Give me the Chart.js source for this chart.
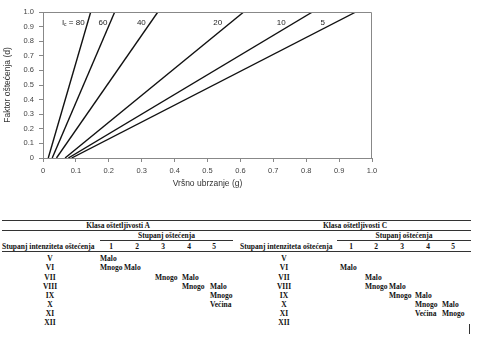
<!DOCTYPE html>
<html>
<head>
<meta charset="utf-8">
<script src="https://cdn.jsdelivr.net/npm/chart.js@4"></script>
<style>
  body { margin: 0; background: #fff; width: 480px; height: 340px; overflow: hidden; position: relative; }
  #wrap { position: absolute; left: 0; top: 0; width: 480px; height: 190px; }
  .t { position: absolute; font-family: "Liberation Serif", serif; font-weight: bold; font-size: 7.5px; line-height: 9px; white-space: nowrap; color: #111; letter-spacing: 0px; }
  .c { transform: translateX(-50%); }
  .hl { position: absolute; height: 0; border-top: 1px solid #333; }
</style>
</head>
<body>
<div id="wrap"><canvas id="chart" width="480" height="190"></canvas></div>
<div id="tables"></div>
<script>
// chart data
const intensities = [80, 60, 40, 20, 10, 5];
const gAtZero = [0.016, 0.028, 0.041, 0.067, 0.077, 0.087];
const gAtOne  = [0.145, 0.218, 0.349, 0.610, 0.819, 0.951];
const labelG  = [0.092, 0.182, 0.299, 0.531, 0.724, 0.850];
const labelD  = 0.925;
const xTicks = [0, 0.1, 0.2, 0.3, 0.4, 0.5, 0.6, 0.7, 0.8, 0.9, 1.0];

// table data
const grades = ['V', 'VI', 'VII', 'VIII', 'IX', 'X', 'XI', 'XII'];
const degrees = ['1', '2', '3', '4', '5'];
const classA = [
  ['Malo', '', '', '', ''],
  ['Mnogo', 'Malo', '', '', ''],
  ['', '', 'Mnogo', 'Malo', ''],
  ['', '', '', 'Mnogo', 'Malo'],
  ['', '', '', '', 'Mnogo'],
  ['', '', '', '', 'Većina'],
  ['', '', '', '', ''],
  ['', '', '', '', '']
];
const classC = [
  ['', '', '', '', ''],
  ['Malo', '', '', '', ''],
  ['', 'Malo', '', '', ''],
  ['', 'Mnogo', 'Malo', '', ''],
  ['', '', 'Mnogo', 'Malo', ''],
  ['', '', '', 'Mnogo', 'Malo'],
  ['', '', '', 'Većina', 'Mnogo'],
  ['', '', '', '', '']
];

const boxPlugin = {
  id: 'box',
  afterDraw(chart) {
    const c = chart.ctx, a = chart.chartArea;
    c.save();
    c.strokeStyle = '#888';
    c.lineWidth = 1;
    c.beginPath();
    c.moveTo(a.left, a.top + 0.5);
    c.lineTo(a.right - 0.5, a.top + 0.5);
    c.lineTo(a.right - 0.5, a.bottom);
    c.stroke();
    // line labels
    c.fillStyle = '#222';
    c.font = '8px "Liberation Sans", sans-serif';
    c.textAlign = 'center';
    c.textBaseline = 'middle';
    const xs = chart.scales.x, ys = chart.scales.y;
    intensities.forEach((v, i) => {
      const px = xs.getPixelForValue(labelG[i]);
      const py = ys.getPixelForValue(labelD);
      if (i === 0) {
        const main = ' = ' + v;
        const w1 = c.measureText('I').width;
        const w2 = c.measureText(main).width;
        c.font = '5px "Liberation Sans", sans-serif';
        const ws = c.measureText('c').width;
        let x0 = px - (w1 + ws + w2) / 2;
        c.textAlign = 'left';
        c.font = '8px "Liberation Sans", sans-serif';
        c.fillText('I', x0, py);
        c.font = '5px "Liberation Sans", sans-serif';
        c.fillText('c', x0 + w1, py + 2);
        c.font = '8px "Liberation Sans", sans-serif';
        c.fillText(main, x0 + w1 + ws, py);
        c.textAlign = 'center';
      } else {
        c.fillText(String(v), px, py);
      }
    });
    c.restore();
  }
};

const ctx = document.getElementById('chart').getContext('2d');
const chart = new Chart(ctx, {
  type: 'scatter',
  data: {
    datasets: intensities.map((v, i) => ({
      label: 'I = ' + v,
      data: [{x: gAtZero[i], y: 0}, {x: gAtOne[i], y: 1}],
      showLine: true,
      borderColor: '#111',
      borderWidth: 1.4,
      pointRadius: 0,
      fill: false
    }))
  },
  options: {
    responsive: false,
    animation: false,
    layout: {padding: {top: 12, right: 108, left: 0, bottom: 0}},
    plugins: {legend: {display: false}, tooltip: {enabled: false}},
    scales: {
      x: {
        type: 'linear', min: 0, max: 1,
        afterBuildTicks: s => { s.ticks = xTicks.map(v => ({value: v})); },
        afterFit: s => { s.height = 32; },
        ticks: {
          callback: v => v === 0 ? '0' : v.toFixed(1),
          color: '#444', padding: 4, maxRotation: 0,
          font: {family: '"Liberation Sans", sans-serif', size: 7.5}
        },
        grid: {drawOnChartArea: false, tickLength: 4, color: '#888'},
        border: {color: '#888'},
        title: {display: true, text: 'Vršno ubrzanje (g)', color: '#333',
          padding: {top: 2, bottom: 1},
          font: {family: '"Liberation Sans", sans-serif', size: 8.5}}
      },
      y: {
        type: 'linear', min: 0, max: 1,
        afterBuildTicks: s => { s.ticks = xTicks.map(v => ({value: v})); },
        afterFit: s => { s.width = 43; },
        ticks: {
          callback: v => v === 0 ? '0' : v.toFixed(1),
          color: '#444', padding: 5,
          font: {family: '"Liberation Sans", sans-serif', size: 7.5}
        },
        grid: {drawOnChartArea: false, tickLength: 4, color: '#888'},
        border: {color: '#888'},
        title: {display: true, text: 'Faktor oštećenja (d)', color: '#333',
          padding: {top: 3, bottom: 2},
          font: {family: '"Liberation Sans", sans-serif', size: 8.5}}
      }
    }
  },
  plugins: [boxPlugin]
});

// tables
const host = document.getElementById('tables');
function txt(s, x, y, center) {
  const d = document.createElement('div');
  d.className = 't' + (center ? ' c' : '');
  d.textContent = s;
  d.style.left = x + 'px';
  d.style.top = (y - 4.5) + 'px';
  host.appendChild(d);
}
function line(x1, x2, y) {
  const d = document.createElement('div');
  d.className = 'hl';
  d.style.left = x1 + 'px';
  d.style.width = (x2 - x1) + 'px';
  d.style.top = y + 'px';
  host.appendChild(d);
}
const rowY = [258, 267.5, 277, 286, 295, 304, 313, 322];
function table(title, titleX, labelX, labelCenter, numX, cellX, subX1, subX2, rows) {
  txt(title, titleX, 225.5, true);
  txt('Stupanj oštećenja', (subX1 + subX2) / 2, 235.5, true);
  line(subX1, subX2, 240);
  txt('Stupanj intenziteta oštećenja', labelX, 246, false);
  degrees.forEach((d, j) => txt(d, numX[j], 246, true));
  grades.forEach((g, i) => {
    txt(g, labelCenter, rowY[i], true);
    rows[i].forEach((s, j) => { if (s) txt(s, cellX[j], rowY[i], false); });
  });
}
line(2, 471, 220);
line(2, 471, 230);
line(2, 471, 250.5);
table('Klasa oštetljivosti A', 118, 2, 50, [111, 137, 163, 189, 214],
  [100, 124, 155, 182, 210], 100, 233, classA);
table('Klasa oštetljivosti C', 355, 240, 284, [351, 376, 402, 428, 453],
  [340, 365, 389, 415, 442], 337, 471, classC);
const bar = document.createElement('div');
bar.style.cssText = 'position:absolute;left:469px;top:324px;width:1px;height:10px;background:#333';
host.appendChild(bar);
</script>
</body>
</html>
